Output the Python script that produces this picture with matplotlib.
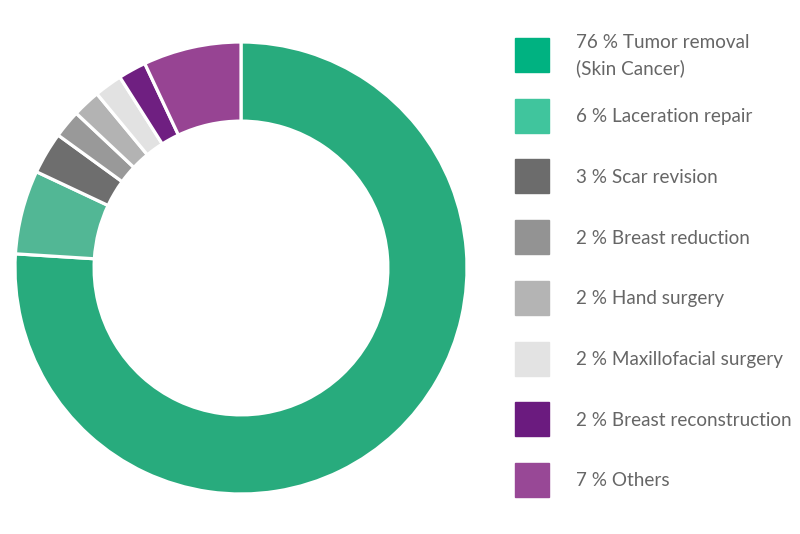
import matplotlib.pyplot as plt
from matplotlib.patches import Rectangle

labels = ["Tumor removal\n(Skin Cancer)", "Laceration repair", "Scar revision",
          "Breast reduction", "Hand surgery", "Maxillofacial surgery",
          "Breast reconstruction", "Others"]
shares = [76, 6, 3, 2, 2, 2, 2, 7]
wedge_colors = ["#28ab7d", "#52b795", "#6e6e6e", "#999999",
                "#b3b3b3", "#e2e2e2", "#6f1f81", "#974493"]
legend_colors = ["#00b281", "#40c59d", "#6c6c6c", "#939393",
                 "#b4b4b4", "#e3e3e3", "#6b1b7f", "#984896"]

W, H = 800, 534
fig = plt.figure(figsize=(W / 100, H / 100), dpi=100)

# donut: center (241, 268), outer radius 226 px
ax = fig.add_axes([15 / W, 40 / H, 452 / W, 452 / H])
ax.pie(shares, colors=wedge_colors, startangle=90, counterclock=False,
       radius=1, wedgeprops=dict(width=0.35, edgecolor="white", linewidth=2.3))
ax.set_xlim(-1, 1)
ax.set_ylim(-1, 1)
ax.set_aspect("equal")
ax.axis("off")

# legend drawn by hand
y0, step = 55, 60.7
for i, (lab, val, col) in enumerate(zip(labels, shares, legend_colors)):
    yc = y0 + i * step
    fig.patches.append(Rectangle((515 / W, 1 - (yc + 17) / H), 34 / W, 34 / H,
                                 transform=fig.transFigure, color=col))
    fig.text(576 / W, 1 - (yc + 1) / H, f"{val} % {lab}", fontsize=13.6,
             family="Lato", color="#666666", va="center", ha="left",
             linespacing=1.55)

fig.savefig("out.png", dpi=100)
